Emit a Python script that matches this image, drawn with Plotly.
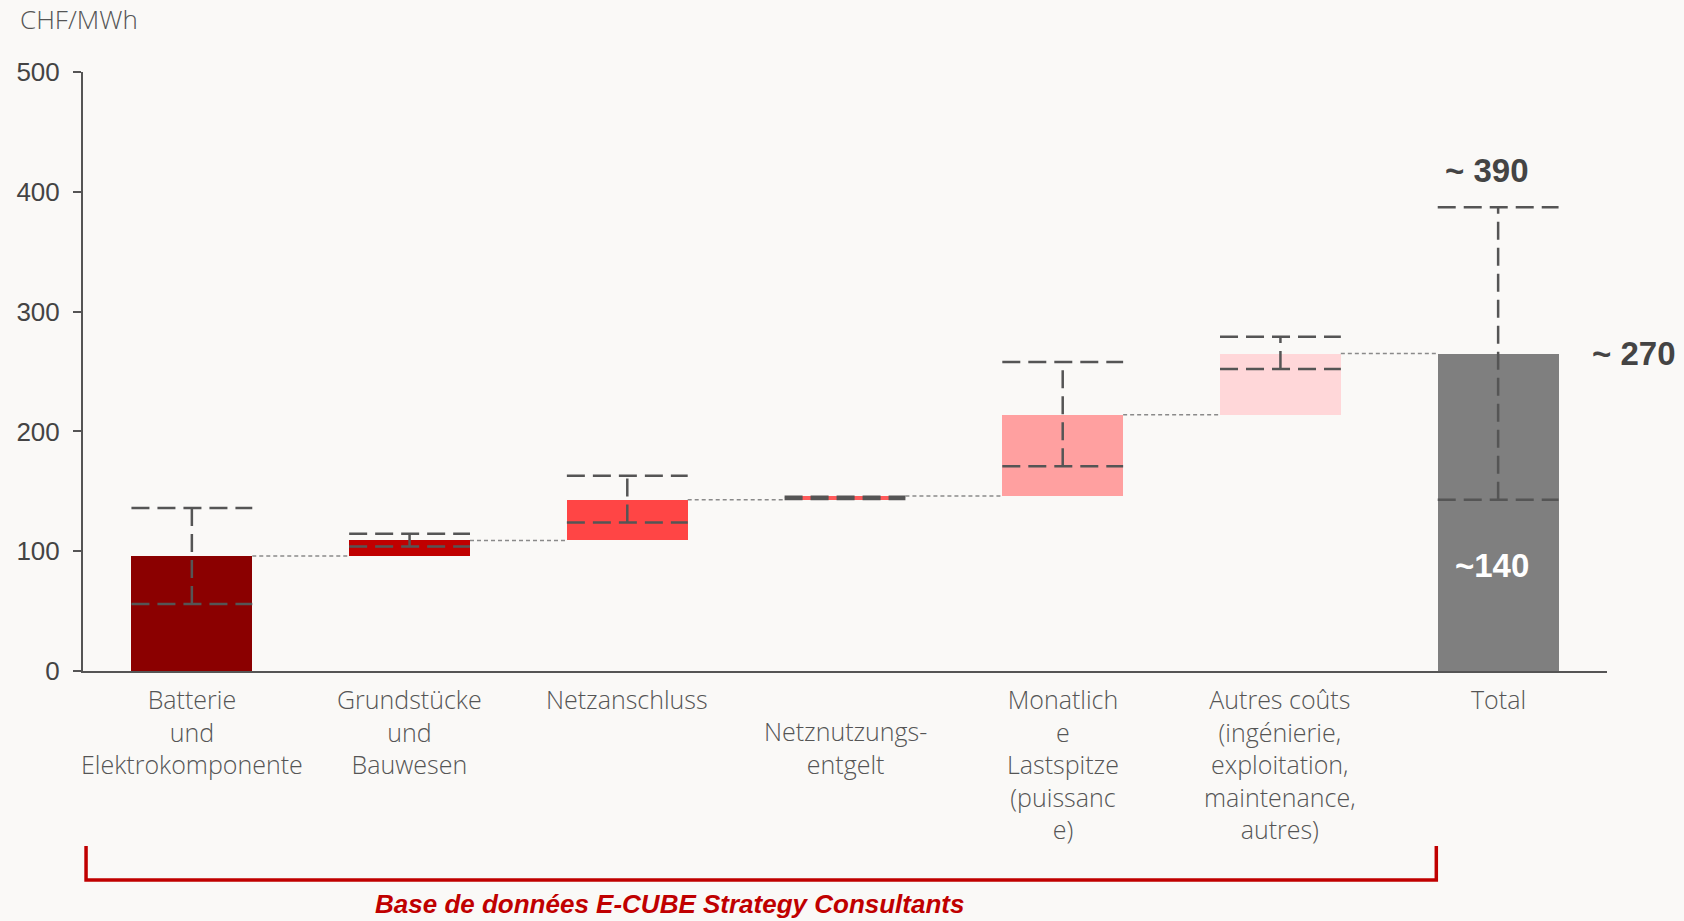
import plotly.graph_objects as go

# ---- data ----
categories = [
    "Batterie<br>und<br>Elektrokomponente",
    "Grundstücke<br>und<br>Bauwesen",
    "Netzanschluss",
    "Netznutzungs-<br>entgelt",
    "Monatlich<br>e<br>Lastspitze<br>(puissanc<br>e)",
    "Autres coûts<br>(ingénierie,<br>exploitation,<br>maintenance,<br>autres)",
    "Total",
]
label_line_offset = [0, 0, 0, 1, 0, 0, 0]
increments = [96, 13, 34, 3, 68, 51]
total_value = 265
range_low = [56, 104, 124, 143.5, 171, 252, 143]
range_high = [136, 114.5, 163, 145.5, 258, 279, 387]
bar_colors = ["#8B0000", "#C00000", "#FF4545", "#FF5B5B", "#FFA0A0", "#FFD7D9", "#7F7F7F"]
y_ticks = [0, 100, 200, 300, 400, 500]

# ---- derived waterfall geometry ----
bases, heights = [], []
run = 0
for v in increments:
    bases.append(run)
    heights.append(v)
    run += v
bases.append(0)
heights.append(total_value)
tops = [b + h for b, h in zip(bases, heights)]
xs = list(range(len(categories)))
BW = 0.555

fig = go.Figure()
fig.add_trace(go.Bar(
    x=xs, y=heights, base=bases, width=BW,
    marker=dict(color=bar_colors, line=dict(width=0)),
    hoverinfo="skip", showlegend=False,
))

# connectors
for i in range(len(xs) - 1):
    fig.add_trace(go.Scatter(
        x=[xs[i] + BW / 2, xs[i + 1] - BW / 2], y=[tops[i], tops[i]],
        mode="lines", line=dict(color="#8a8a8a", width=1.5, dash="4px,3px"),
        hoverinfo="skip", showlegend=False,
    ))

# range markers
for i in xs:
    lo, hi = range_low[i], range_high[i]
    for yy in (lo, hi):
        fig.add_trace(go.Scatter(
            x=[xs[i] - BW / 2, xs[i] + BW / 2], y=[yy, yy],
            mode="lines", line=dict(color="#555555", width=2.5, dash="18px,8px"),
            hoverinfo="skip", showlegend=False,
        ))
    fig.add_trace(go.Scatter(
        x=[xs[i], xs[i]], y=[lo, hi],
        mode="lines", line=dict(color="#555555", width=2.5, dash="18px,8px"),
        hoverinfo="skip", showlegend=False,
    ))

label_font = dict(family="Open Sans", size=25, color="#555555", weight=300)
annotations = []
for i, lab in enumerate(categories):
    annotations.append(dict(
        x=xs[i], y=0, xref="x", yref="y", text=lab, showarrow=False,
        xanchor="center", yanchor="top", yshift=-9 - 32 * label_line_offset[i],
        font=label_font,
    ))

big = dict(family="Liberation Sans, Arial", size=33, color="#444444", weight="bold")
annotations += [
    dict(x=xs[6] - 0.05, y=418, xref="x", yref="y", text="~ 390", showarrow=False,
         font=big, xanchor="center", yanchor="middle"),
    dict(x=1.018, y=265, xref="paper", yref="y", text="~ 270", showarrow=False,
         font=big, xanchor="center", yanchor="middle"),
    dict(x=xs[6] - 0.03, y=88, xref="x", yref="y", text="~140", showarrow=False,
         font=dict(family="Liberation Sans, Arial", size=33, color="white", weight="bold"),
         xanchor="center", yanchor="middle"),
    dict(x=-0.0427, y=1.088, xref="paper", yref="paper", text="CHF/MWh", showarrow=False,
         xanchor="left", yanchor="middle",
         font=dict(family="Open Sans", size=26, color="#555555", weight=300)),
    dict(x=0.385, y=-0.389, xref="paper", yref="paper",
         text="<b><i>Base de données E-CUBE Strategy Consultants</i></b>", showarrow=False,
         xanchor="center", yanchor="middle",
         font=dict(family="Liberation Sans, Arial", size=26, color="#C00000")),
]

shapes = [
    dict(type="path", xref="paper", yref="paper",
         path="M 0.002,-0.292 L 0.002,-0.349 L 0.888,-0.349 L 0.888,-0.292",
         line=dict(color="#C00000", width=3.5)),
]

fig.update_layout(
    width=1684, height=921,
    margin=dict(l=83, r=77, t=72, b=250),
    paper_bgcolor="#FAF9F7", plot_bgcolor="#FAF9F7",
    bargap=0,
    annotations=annotations, shapes=shapes,
    xaxis=dict(range=[-0.5, 6.5], showgrid=False, zeroline=False, showticklabels=False,
               ticks="", showline=True, linecolor="#555555", linewidth=2),
    yaxis=dict(range=[0, 500], tickvals=y_ticks, showgrid=False, zeroline=False,
               showline=True, linecolor="#555555", linewidth=2,
               ticks="outside", ticklen=8, tickwidth=2, tickcolor="#555555",
               ticklabelstandoff=8,
               tickfont=dict(family="Liberation Sans, Arial", size=26, color="#444444")),
)

fig.write_html("out.html", config={"displayModeBar": False},
               post_script="document.body.style.margin='0';document.body.style.overflow='hidden';")
